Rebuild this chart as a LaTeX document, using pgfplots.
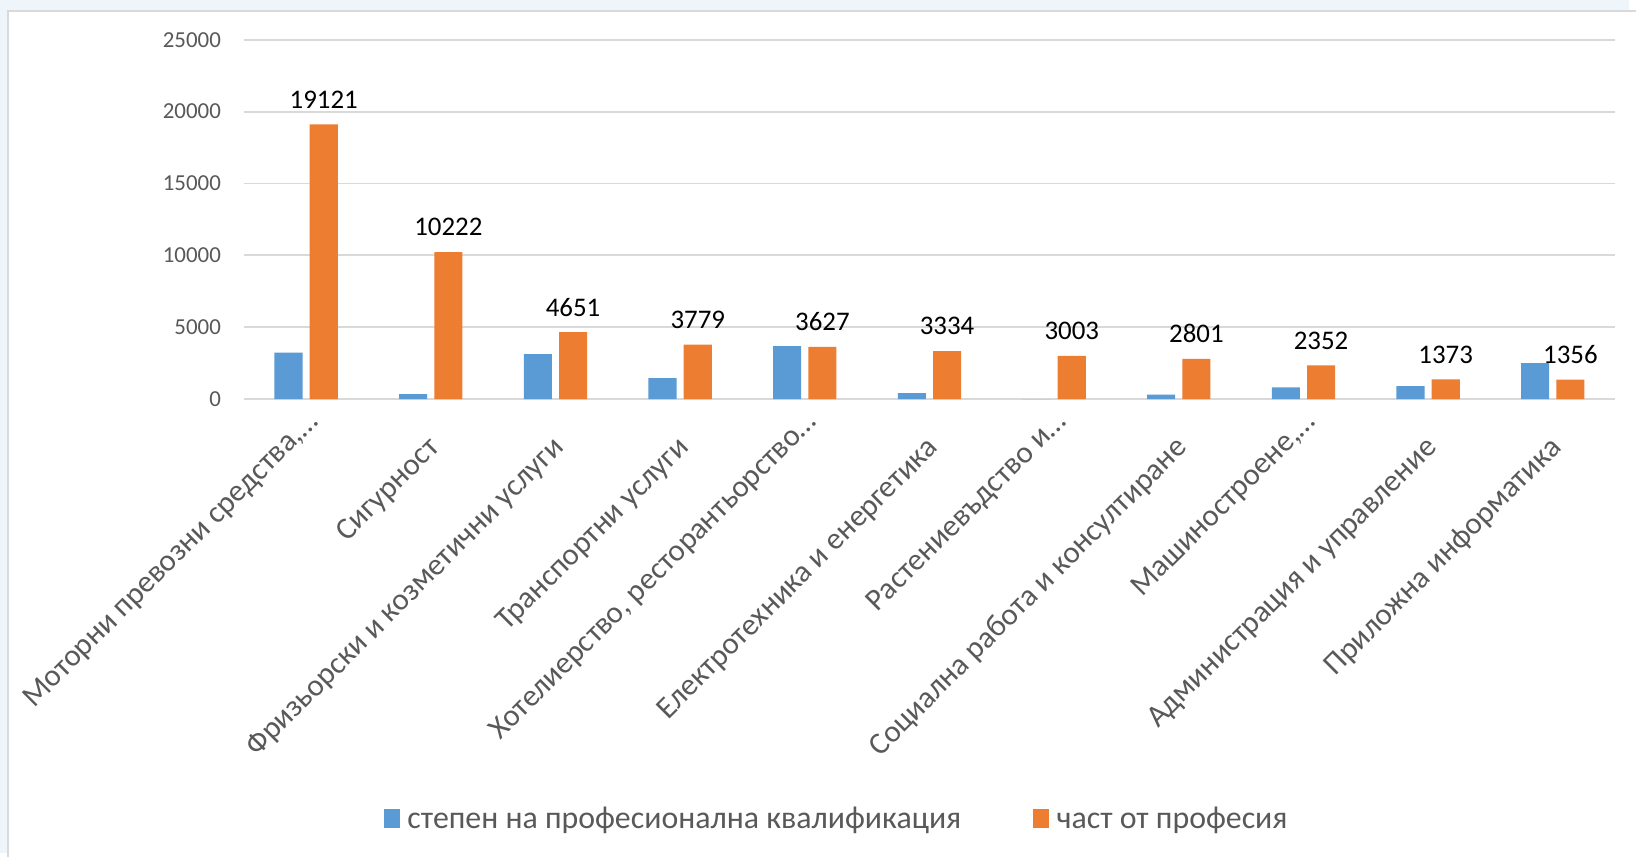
\documentclass[border=0pt]{standalone}
\usepackage{fontspec}
\setmainfont{Carlito}
\usepackage{pgfplots}
\pgfplotsset{compat=1.18}
\definecolor{cblue}{HTML}{5B9BD5}
\definecolor{corange}{HTML}{ED7D31}
\definecolor{tickgray}{HTML}{595959}
\definecolor{gridgray}{HTML}{D9D9D9}
\definecolor{bgblue}{HTML}{EEF6FB}
\newcommand{\trunc}[1]{\makebox[\dimexpr\width-10.5pt\relax][l]{\raisebox{8pt}{#1}}}
\begin{document}
\begin{tikzpicture}[x=1pt,y=1pt]
\fill[bgblue] (0,0) rectangle (818.5,428.5);
\fill[white] (4,0) rectangle (818.5,423);
\draw[gridgray, line width=1pt] (4,-2) -- (4,423) -- (822,423);
\useasboundingbox (0,0) rectangle (818.5,428.5);
\begin{axis}[
  at={(122.5pt,228pt)}, anchor=south west,
  scale only axis, width=689pt, height=180.5pt,
  ymin=0, ymax=25000, ytick={0,5000,10000,15000,20000,25000},
  scaled y ticks=false,
  xmin=-0.5, xmax=10.5, xtick={0,1,2,3,4,5,6,7,8,9,10},
  xticklabels={{\trunc{Моторни превозни средства,…}},
    Сигурност,
    Фризьорски и козметични услуги,
    Транспортни услуги,
    {\trunc{Хотелиерство, ресторантьорство…}},
    Електротехника и енергетика,
    {\trunc{Растениевъдство и…}},
    Социална работа и консултиране,
    {\trunc{Машиностроене,…}},
    Администрация и управление,
    Приложна информатика},
  axis line style={draw=none},
  major tick length=0pt,
  ymajorgrids, grid style={gridgray, line width=1pt},
  /pgf/number format/1000 sep={},
  /pgf/number format/assume math mode=true,
  yticklabel style={font=\fontsize{11.5}{13}\selectfont, text=tickgray, xshift=-8pt},
  xticklabel style={xshift=5pt, yshift=-25pt, font=\fontsize{15.5}{17}\selectfont, text=tickgray, rotate=45, anchor=base east, inner sep=0pt},
  ybar=3.6pt, bar width=14.1pt,
  legend style={at={(0.433,-1.17)}, anchor=center, legend columns=2, draw=none, fill=none,
    font=\fontsize{16}{18}\selectfont, text=tickgray,
    /tikz/every even column/.append style={column sep=34pt}},
  clip=false,
]
\addplot[fill=cblue, draw=none,
  legend image code/.code={\fill[cblue] (0pt,-4.5pt) rectangle (8pt,5pt);}]
  coordinates {(0,3230) (1,350) (2,3120) (3,1450) (4,3680) (5,420) (6,0) (7,300) (8,810) (9,900) (10,2500)};
\addlegendentry{\hspace{2pt}степен на професионална квалификация}
\addplot[fill=corange, draw=none,
  legend image code/.code={\fill[corange] (0pt,-4.5pt) rectangle (8pt,5pt);},
  nodes near coords,
  nodes near coords style={font=\fontsize{13.5}{15}\selectfont, text=black, yshift=4.5pt}]
  coordinates {(0,19121) (1,10222) (2,4651) (3,3779) (4,3627) (5,3334) (6,3003) (7,2801) (8,2352) (9,1373) (10,1356)};
\addlegendentry{\hspace{2pt}част от професия}
\end{axis}
\end{tikzpicture}
\end{document}
